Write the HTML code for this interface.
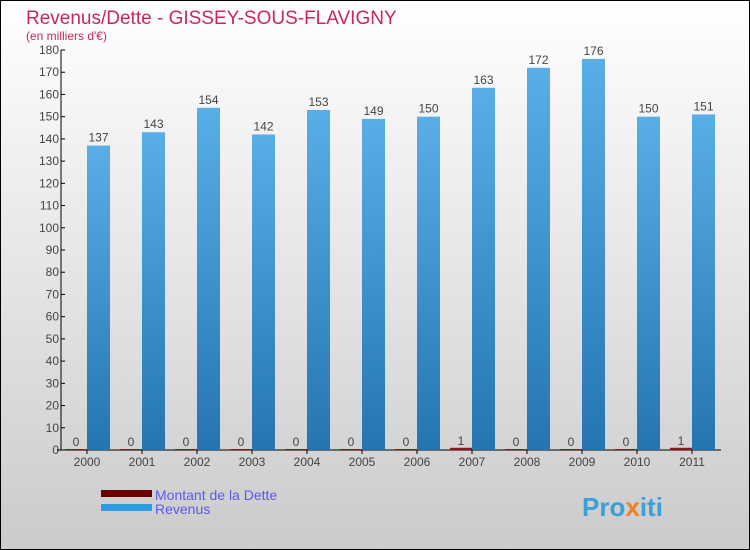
<!DOCTYPE html>
<html><head><meta charset="utf-8"><style>
body{margin:0}
svg{display:block;font-family:"Liberation Sans",sans-serif}
</style></head><body>
<svg width="750" height="550" xmlns="http://www.w3.org/2000/svg">
<defs>
<linearGradient id="bg" x1="0" y1="0" x2="0" y2="1"><stop offset="0" stop-color="#ffffff"/><stop offset="1" stop-color="#cbcbcb"/></linearGradient>
<linearGradient id="bb" x1="0" y1="0" x2="0" y2="1"><stop offset="0" stop-color="#5aaee8"/><stop offset="1" stop-color="#2475b0"/></linearGradient>
</defs>
<rect x="0.5" y="0.5" width="749" height="549" fill="url(#bg)" stroke="#000"/>
<text x="26" y="24" font-size="19" fill="#c8285a">Revenus/Dette - GISSEY-SOUS-FLAVIGNY</text>
<text x="26" y="40" font-size="12" fill="#c8285a">(en milliers d'€)</text>
<g id="axes"></g>
<g id="bars"></g>
<g>
<rect x="101" y="490" width="51" height="7" fill="#6b0000"/>
<text x="155" y="500" font-size="14" fill="#5a5aee">Montant de la Dette</text>
<rect x="101" y="504" width="51" height="7" fill="#2e9ae0"/>
<text x="155" y="514" font-size="14" fill="#5a5aee">Revenus</text>
</g>
<text x="582" y="516" font-size="26" font-weight="bold" fill="#3aa0d8">Pro<tspan fill="#f08020">x</tspan><tspan fill="#3aa0d8">iti</tspan></text>
</svg>
<script>
const years=["2000","2001","2002","2003","2004","2005","2006","2007","2008","2009","2010","2011"];
const dette=[0,0,0,0,0,0,0,1,0,0,0,1];
const revenus=[137,143,154,142,153,149,150,163,172,176,150,151];
const yTicks=[0,10,20,30,40,50,60,70,80,90,100,110,120,130,140,150,160,170,180];
const NS="http://www.w3.org/2000/svg";
const x0=61,catW=55,y0=450,yMax=180,plotH=400;
function y(v){return y0-v/yMax*plotH;}
function mk(tag,attrs,parent){const e=document.createElementNS(NS,tag);for(const k in attrs)e.setAttribute(k,attrs[k]);parent.appendChild(e);return e;}
const ax=document.getElementById('axes'),bg=document.getElementById('bars');
yTicks.forEach(t=>{
 const l=mk('line',{x1:x0,x2:x0+4,y1:y(t),y2:y(t),stroke:'#000'},ax);
 
 
 const tx=mk('text',{x:x0-2,y:y(t)+4,'font-size':12,fill:'#444','text-anchor':'end'},ax);
 tx.textContent=t;
 
 
});
const ya=mk('line',{x1:x0,x2:x0,y1:y(yMax),y2:y0,stroke:'#000'},ax);


const xa=mk('line',{x1:x0-4,x2:x0+catW*years.length,y1:y0,y2:y0,stroke:'#000'},ax);


years.forEach((yr,i)=>{
 const c=x0+catW*i+26;
 const tk=mk('line',{x1:c,x2:c,y1:y0,y2:y0+4,stroke:'#000'},ax);
 
 
 const lb=mk('text',{x:c,y:y0+16,'font-size':12,fill:'#444','text-anchor':'middle'},ax);
 lb.textContent=yr;
 
 
 const dh=Math.max(y0-y(dette[i]),1);
 const rd=mk('rect',{x:c-22,y:y0-dh,width:22,height:dh,fill:'#8b1a1a'},bg);
 
 
 const dl=mk('text',{x:c-11,y:y0-dh-3,'font-size':12,fill:'#444','text-anchor':'middle'},bg);
 dl.textContent=dette[i];
 
 
 const rb=mk('rect',{x:c,y:y(revenus[i]),width:23,height:y0-y(revenus[i]),fill:'url(#bb)'},bg);
 
 
 const rl=mk('text',{x:c+11.5,y:y(revenus[i])-4,'font-size':12,fill:'#444','text-anchor':'middle'},bg);
 rl.textContent=revenus[i];
 
 
});
</script>
</body></html>
